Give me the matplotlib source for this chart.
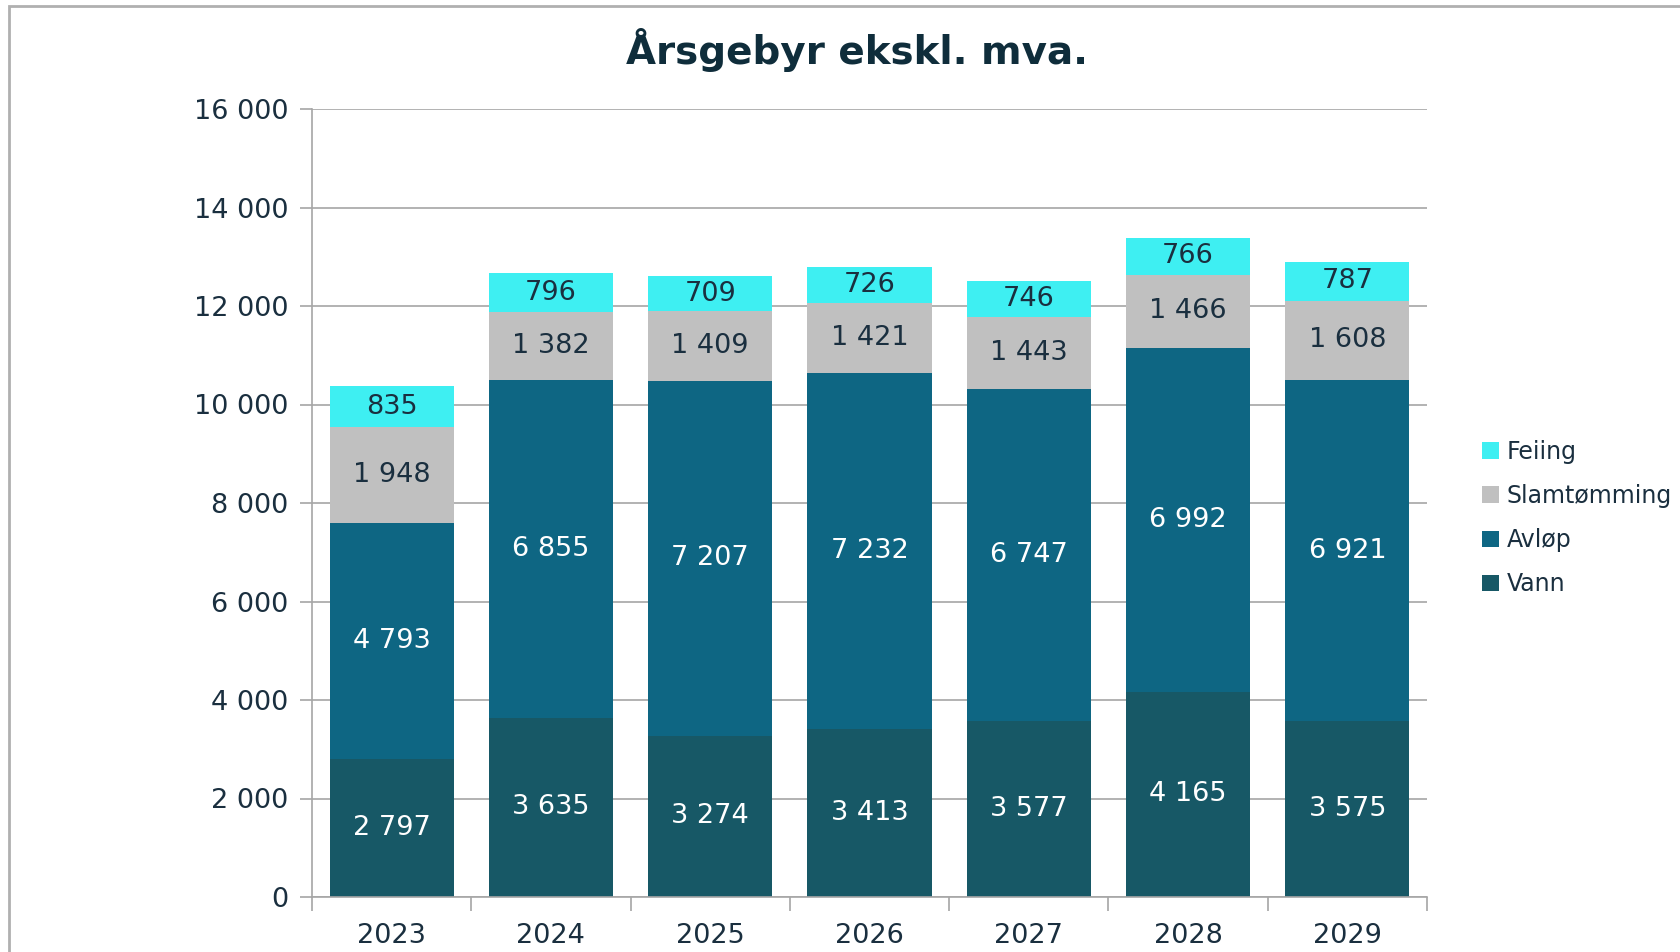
import matplotlib.pyplot as plt
from matplotlib.patches import Rectangle

years = ["2023", "2024", "2025", "2026", "2027", "2028", "2029"]
vann = [2797, 3635, 3274, 3413, 3577, 4165, 3575]
avlop = [4793, 6855, 7207, 7232, 6747, 6992, 6921]
slam = [1948, 1382, 1409, 1421, 1443, 1466, 1608]
feiing = [835, 796, 709, 726, 746, 766, 787]

series = [("Vann", vann, "#175866", "white"),
          ("Avløp", avlop, "#0e6683", "white"),
          ("Slamtømming", slam, "#c0c0c0", "#1a2f3f"),
          ("Feiing", feiing, "#3eeff2", "#1a2f3f")]

txt = "#1a2f3f"
grid = "#a6a6a6"
fs = 19.5

def fmt(v):
    return f"{v:,}".replace(",", " ")

fig = plt.figure(figsize=(16.8, 9.52), dpi=100)
fig.patches.append(Rectangle((9 / 1680, -0.1), 1.2, 0.1 + 1 - 6 / 952,
                             transform=fig.transFigure, fill=False,
                             edgecolor="#b0b0b0", linewidth=2))
ax = fig.add_axes([312 / 1680, 1 - 897 / 952, 1115 / 1680, 788 / 952])

x = list(range(len(years)))
bottom = [0] * len(years)
handles = []
for name, vals, col, lc in series:
    bars = ax.bar(x, vals, width=0.78, bottom=bottom, color=col, label=name, zorder=2)
    handles.append(bars)
    for xi, b, v in zip(x, bottom, vals):
        ax.text(xi, b + v / 2, fmt(v), ha="center", va="center",
                color=lc, fontsize=fs, zorder=3)
    bottom = [b + v for b, v in zip(bottom, vals)]

ax.set_xlim(-0.5, len(years) - 0.5)
ax.set_ylim(0, 16000)
ax.set_yticks(range(0, 16001, 2000))
ax.set_yticklabels([fmt(v) for v in range(0, 16001, 2000)], fontsize=fs, color=txt)
ax.yaxis.grid(True, color=grid, linewidth=1.2, zorder=0)
ax.set_xticks(x)
ax.set_xticklabels(years, fontsize=fs, color=txt)
ax.set_xticks([i - 0.5 for i in range(len(years) + 1)], minor=True)
ax.tick_params(axis="x", which="major", length=0, pad=19)
ax.tick_params(axis="x", which="minor", length=10, color=grid, width=1.2)
ax.tick_params(axis="y", length=9, color=grid, width=1.2, pad=8)
for s in ["top", "right"]:
    ax.spines[s].set_visible(False)
for s in ["left", "bottom"]:
    ax.spines[s].set_color(grid)
    ax.spines[s].set_linewidth(1.2)

fig.text(857 / 1680, 1 - 50 / 952, "Årsgebyr ekskl. mva.", ha="center", va="center",
         fontsize=28, fontweight="heavy", color="#0f2d3b")

leg = fig.legend(handles[::-1], [s[0] for s in series][::-1], loc="center left",
                 bbox_to_anchor=(1482 / 1680, 1 - 518 / 952), frameon=False,
                 borderpad=0, borderaxespad=0,
                 fontsize=17, handlelength=0.7, handleheight=0.7, handletextpad=0.35,
                 labelspacing=0.85, labelcolor=txt)

fig.savefig("out.png", dpi=100)
